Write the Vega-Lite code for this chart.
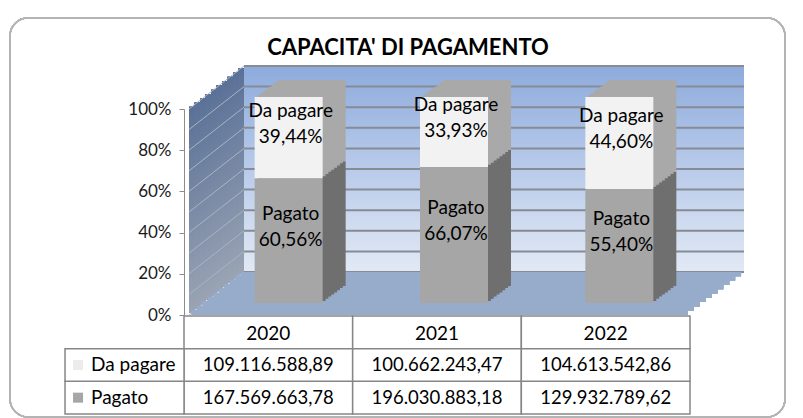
{
  "$schema": "https://vega.github.io/schema/vega-lite/v6.json",
  "background": "white",
  "padding": {"left": 9, "top": 17, "right": 7, "bottom": 1},
  "config": {
    "font": "Lato",
    "view": {"stroke": null},
    "axisY": {"grid": false, "domain": true, "domainColor": "#8c8c8c", "ticks": true, "tickSize": 5, "tickColor": "#8c8c8c", "tickCount": 10, "labelPadding": 8, "labelFontSize": 17, "labelColor": "#1a1a1a", "labelFont": "Lato", "labelOverlap": false},
    "locale": {"number": {"decimal": ",", "thousands": ".", "grouping": [3], "currency": ["", " €"]}}
  },
  "datasets": {
    "valori": [
      {"anno": 2020, "serie": "Pagato", "importo": 167569663.78, "quota": 0.6056},
      {"anno": 2020, "serie": "Da pagare", "importo": 109116588.89, "quota": 0.3944},
      {"anno": 2021, "serie": "Pagato", "importo": 196030883.18, "quota": 0.6607},
      {"anno": 2021, "serie": "Da pagare", "importo": 100662243.47, "quota": 0.3393},
      {"anno": 2022, "serie": "Pagato", "importo": 129932789.62, "quota": 0.5540},
      {"anno": 2022, "serie": "Da pagare", "importo": 104613542.86, "quota": 0.4460}
    ],
    "griglia": [
      {"v": 0}, {"v": 0.1}, {"v": 0.2}, {"v": 0.3}, {"v": 0.4}, {"v": 0.5},
      {"v": 0.6}, {"v": 0.7}, {"v": 0.8}, {"v": 0.9}, {"v": 1}
    ],
    "titolo": [{"testo": "CAPACITA' DI PAGAMENTO"}]
  },
  "bounds": "flush",
  "spacing": 1,
  "vconcat": [
    {
      "width": 506,
      "height": 206,
      "data": {"name": "valori"},
      "layer": [
        {"mark": {"type": "rect", "fill": null, "fillOpacity": 0, "stroke": "#b4b4b4", "strokeWidth": 1.5, "cornerRadius": 18, "xOffset": -179, "x2Offset": 100, "yOffset": -91, "y2Offset": 102},
         "encoding": {
           "x": {"datum": 2019.5, "type": "quantitative", "scale": {"domain": [2019.5, 2022.5], "nice": false, "zero": false}, "axis": null},
           "x2": {"datum": 2022.5},
           "y": {"datum": 1, "type": "quantitative", "scale": {"domain": [0, 1], "nice": false}, "title": null,
                 "axis": {"values": [0, 0.1, 0.2, 0.3, 0.4, 0.5, 0.6, 0.7, 0.8, 0.9, 1], "tickCount": 10, "format": ".0%", "title": null, "zindex": 1, "labelOverlap": false}},
           "y2": {"datum": 0}}},
        {"mark": {"type": "rect", "xOffset": 55, "x2Offset": 59, "yOffset": -43, "y2Offset": -43,
           "fill": {"gradient": "linear", "x1": 0, "y1": 0, "x2": 0, "y2": 1, "stops": [{"offset": 0, "color": "#8dabdc"}, {"offset": 0.5, "color": "#b9cbea"}, {"offset": 1, "color": "#e2e9f5"}]}},
         "encoding": {
           "x": {"datum": 2019.5, "type": "quantitative", "axis": null},
           "x2": {"datum": 2022.5},
           "y": {"datum": 1, "type": "quantitative", "title": null, "axis": {"values": [0, 0.1, 0.2, 0.3, 0.4, 0.5, 0.6, 0.7, 0.8, 0.9, 1], "tickCount": 10, "format": ".0%", "title": null, "zindex": 1, "labelOverlap": false}},
           "y2": {"datum": 0}}},
        {"data": {"name": "griglia"},
         "mark": {"type": "rule", "xOffset": 55, "x2Offset": 59, "yOffset": -43, "stroke": "#868b95", "strokeWidth": 2},
         "encoding": {
           "x": {"datum": 2019.5, "type": "quantitative", "axis": null},
           "x2": {"datum": 2022.5},
           "y": {"field": "v", "type": "quantitative", "title": null, "axis": {"values": [0, 0.1, 0.2, 0.3, 0.4, 0.5, 0.6, 0.7, 0.8, 0.9, 1], "tickCount": 10, "format": ".0%", "title": null, "zindex": 1, "labelOverlap": false}}}},
        {"mark": {"type": "rect", "xOffset": 0, "x2Offset": 6, "yOffset": -2.15, "y2Offset": -2.15, "fill": {"gradient": "linear", "x1": 0, "y1": 0, "x2": 0, "y2": 1, "stops": [{"offset": 0, "color": "#5a7197"}, {"offset": 1, "color": "#9aa4b4"}]}},
         "encoding": {"x": {"datum": 2019.5, "type": "quantitative", "axis": null}, "x2": {"datum": 2019.5}, "y": {"datum": 0, "type": "quantitative", "title": null, "axis": {"values": [0, 0.1, 0.2, 0.3, 0.4, 0.5, 0.6, 0.7, 0.8, 0.9, 1], "tickCount": 10, "format": ".0%", "title": null, "zindex": 1, "labelOverlap": false}}, "y2": {"datum": 1}}},
        {"mark": {"type": "rect", "xOffset": 5.5, "x2Offset": 11.5, "yOffset": -6.45, "y2Offset": -6.45, "fill": {"gradient": "linear", "x1": 0, "y1": 0, "x2": 0, "y2": 1, "stops": [{"offset": 0, "color": "#5a7197"}, {"offset": 1, "color": "#9aa4b4"}]}},
         "encoding": {"x": {"datum": 2019.5, "type": "quantitative", "axis": null}, "x2": {"datum": 2019.5}, "y": {"datum": 0, "type": "quantitative", "title": null, "axis": {"values": [0, 0.1, 0.2, 0.3, 0.4, 0.5, 0.6, 0.7, 0.8, 0.9, 1], "tickCount": 10, "format": ".0%", "title": null, "zindex": 1, "labelOverlap": false}}, "y2": {"datum": 1}}},
        {"mark": {"type": "rect", "xOffset": 11, "x2Offset": 17, "yOffset": -10.75, "y2Offset": -10.75, "fill": {"gradient": "linear", "x1": 0, "y1": 0, "x2": 0, "y2": 1, "stops": [{"offset": 0, "color": "#5a7197"}, {"offset": 1, "color": "#9aa4b4"}]}},
         "encoding": {"x": {"datum": 2019.5, "type": "quantitative", "axis": null}, "x2": {"datum": 2019.5}, "y": {"datum": 0, "type": "quantitative", "title": null, "axis": {"values": [0, 0.1, 0.2, 0.3, 0.4, 0.5, 0.6, 0.7, 0.8, 0.9, 1], "tickCount": 10, "format": ".0%", "title": null, "zindex": 1, "labelOverlap": false}}, "y2": {"datum": 1}}},
        {"mark": {"type": "rect", "xOffset": 16.5, "x2Offset": 22.5, "yOffset": -15.05, "y2Offset": -15.05, "fill": {"gradient": "linear", "x1": 0, "y1": 0, "x2": 0, "y2": 1, "stops": [{"offset": 0, "color": "#5a7197"}, {"offset": 1, "color": "#9aa4b4"}]}},
         "encoding": {"x": {"datum": 2019.5, "type": "quantitative", "axis": null}, "x2": {"datum": 2019.5}, "y": {"datum": 0, "type": "quantitative", "title": null, "axis": {"values": [0, 0.1, 0.2, 0.3, 0.4, 0.5, 0.6, 0.7, 0.8, 0.9, 1], "tickCount": 10, "format": ".0%", "title": null, "zindex": 1, "labelOverlap": false}}, "y2": {"datum": 1}}},
        {"mark": {"type": "rect", "xOffset": 22, "x2Offset": 28, "yOffset": -19.35, "y2Offset": -19.35, "fill": {"gradient": "linear", "x1": 0, "y1": 0, "x2": 0, "y2": 1, "stops": [{"offset": 0, "color": "#5a7197"}, {"offset": 1, "color": "#9aa4b4"}]}},
         "encoding": {"x": {"datum": 2019.5, "type": "quantitative", "axis": null}, "x2": {"datum": 2019.5}, "y": {"datum": 0, "type": "quantitative", "title": null, "axis": {"values": [0, 0.1, 0.2, 0.3, 0.4, 0.5, 0.6, 0.7, 0.8, 0.9, 1], "tickCount": 10, "format": ".0%", "title": null, "zindex": 1, "labelOverlap": false}}, "y2": {"datum": 1}}},
        {"mark": {"type": "rect", "xOffset": 27.5, "x2Offset": 33.5, "yOffset": -23.65, "y2Offset": -23.65, "fill": {"gradient": "linear", "x1": 0, "y1": 0, "x2": 0, "y2": 1, "stops": [{"offset": 0, "color": "#5a7197"}, {"offset": 1, "color": "#9aa4b4"}]}},
         "encoding": {"x": {"datum": 2019.5, "type": "quantitative", "axis": null}, "x2": {"datum": 2019.5}, "y": {"datum": 0, "type": "quantitative", "title": null, "axis": {"values": [0, 0.1, 0.2, 0.3, 0.4, 0.5, 0.6, 0.7, 0.8, 0.9, 1], "tickCount": 10, "format": ".0%", "title": null, "zindex": 1, "labelOverlap": false}}, "y2": {"datum": 1}}},
        {"mark": {"type": "rect", "xOffset": 33, "x2Offset": 39, "yOffset": -27.95, "y2Offset": -27.95, "fill": {"gradient": "linear", "x1": 0, "y1": 0, "x2": 0, "y2": 1, "stops": [{"offset": 0, "color": "#5a7197"}, {"offset": 1, "color": "#9aa4b4"}]}},
         "encoding": {"x": {"datum": 2019.5, "type": "quantitative", "axis": null}, "x2": {"datum": 2019.5}, "y": {"datum": 0, "type": "quantitative", "title": null, "axis": {"values": [0, 0.1, 0.2, 0.3, 0.4, 0.5, 0.6, 0.7, 0.8, 0.9, 1], "tickCount": 10, "format": ".0%", "title": null, "zindex": 1, "labelOverlap": false}}, "y2": {"datum": 1}}},
        {"mark": {"type": "rect", "xOffset": 38.5, "x2Offset": 44.5, "yOffset": -32.25, "y2Offset": -32.25, "fill": {"gradient": "linear", "x1": 0, "y1": 0, "x2": 0, "y2": 1, "stops": [{"offset": 0, "color": "#5a7197"}, {"offset": 1, "color": "#9aa4b4"}]}},
         "encoding": {"x": {"datum": 2019.5, "type": "quantitative", "axis": null}, "x2": {"datum": 2019.5}, "y": {"datum": 0, "type": "quantitative", "title": null, "axis": {"values": [0, 0.1, 0.2, 0.3, 0.4, 0.5, 0.6, 0.7, 0.8, 0.9, 1], "tickCount": 10, "format": ".0%", "title": null, "zindex": 1, "labelOverlap": false}}, "y2": {"datum": 1}}},
        {"mark": {"type": "rect", "xOffset": 44, "x2Offset": 50, "yOffset": -36.55, "y2Offset": -36.55, "fill": {"gradient": "linear", "x1": 0, "y1": 0, "x2": 0, "y2": 1, "stops": [{"offset": 0, "color": "#5a7197"}, {"offset": 1, "color": "#9aa4b4"}]}},
         "encoding": {"x": {"datum": 2019.5, "type": "quantitative", "axis": null}, "x2": {"datum": 2019.5}, "y": {"datum": 0, "type": "quantitative", "title": null, "axis": {"values": [0, 0.1, 0.2, 0.3, 0.4, 0.5, 0.6, 0.7, 0.8, 0.9, 1], "tickCount": 10, "format": ".0%", "title": null, "zindex": 1, "labelOverlap": false}}, "y2": {"datum": 1}}},
        {"mark": {"type": "rect", "xOffset": 49.5, "x2Offset": 55, "yOffset": -40.85, "y2Offset": -40.85, "fill": {"gradient": "linear", "x1": 0, "y1": 0, "x2": 0, "y2": 1, "stops": [{"offset": 0, "color": "#5a7197"}, {"offset": 1, "color": "#9aa4b4"}]}},
         "encoding": {"x": {"datum": 2019.5, "type": "quantitative", "axis": null}, "x2": {"datum": 2019.5}, "y": {"datum": 0, "type": "quantitative", "title": null, "axis": {"values": [0, 0.1, 0.2, 0.3, 0.4, 0.5, 0.6, 0.7, 0.8, 0.9, 1], "tickCount": 10, "format": ".0%", "title": null, "zindex": 1, "labelOverlap": false}}, "y2": {"datum": 1}}},
        {"data": {"name": "griglia"},
         "mark": {"type": "rule", "x2Offset": 55, "y2Offset": -43, "stroke": "#aab4c5", "strokeWidth": 1},
         "encoding": {
           "x": {"datum": 2019.5, "type": "quantitative", "axis": null}, "x2": {"datum": 2019.5},
           "y": {"field": "v", "type": "quantitative", "title": null, "axis": {"values": [0, 0.1, 0.2, 0.3, 0.4, 0.5, 0.6, 0.7, 0.8, 0.9, 1], "tickCount": 10, "format": ".0%", "title": null, "zindex": 1, "labelOverlap": false}}, "y2": {"field": "v"}}},
        {"mark": {"type": "rect", "fill": "#97abca", "xOffset": 2.75, "x2Offset": 2.95, "yOffset": 0, "y2Offset": -4.8},
         "encoding": {"x": {"datum": 2019.5, "type": "quantitative", "axis": null}, "x2": {"datum": 2022.5}, "y": {"datum": 0, "type": "quantitative", "title": null, "axis": {"values": [0, 0.1, 0.2, 0.3, 0.4, 0.5, 0.6, 0.7, 0.8, 0.9, 1], "tickCount": 10, "format": ".0%", "title": null, "zindex": 1, "labelOverlap": false}}, "y2": {"datum": 0}}},
        {"mark": {"type": "rect", "fill": "#97abca", "xOffset": 8.25, "x2Offset": 8.85, "yOffset": -4.3, "y2Offset": -9.1},
         "encoding": {"x": {"datum": 2019.5, "type": "quantitative", "axis": null}, "x2": {"datum": 2022.5}, "y": {"datum": 0, "type": "quantitative", "title": null, "axis": {"values": [0, 0.1, 0.2, 0.3, 0.4, 0.5, 0.6, 0.7, 0.8, 0.9, 1], "tickCount": 10, "format": ".0%", "title": null, "zindex": 1, "labelOverlap": false}}, "y2": {"datum": 0}}},
        {"mark": {"type": "rect", "fill": "#97abca", "xOffset": 13.75, "x2Offset": 14.75, "yOffset": -8.6, "y2Offset": -13.4},
         "encoding": {"x": {"datum": 2019.5, "type": "quantitative", "axis": null}, "x2": {"datum": 2022.5}, "y": {"datum": 0, "type": "quantitative", "title": null, "axis": {"values": [0, 0.1, 0.2, 0.3, 0.4, 0.5, 0.6, 0.7, 0.8, 0.9, 1], "tickCount": 10, "format": ".0%", "title": null, "zindex": 1, "labelOverlap": false}}, "y2": {"datum": 0}}},
        {"mark": {"type": "rect", "fill": "#97abca", "xOffset": 19.25, "x2Offset": 20.65, "yOffset": -12.9, "y2Offset": -17.7},
         "encoding": {"x": {"datum": 2019.5, "type": "quantitative", "axis": null}, "x2": {"datum": 2022.5}, "y": {"datum": 0, "type": "quantitative", "title": null, "axis": {"values": [0, 0.1, 0.2, 0.3, 0.4, 0.5, 0.6, 0.7, 0.8, 0.9, 1], "tickCount": 10, "format": ".0%", "title": null, "zindex": 1, "labelOverlap": false}}, "y2": {"datum": 0}}},
        {"mark": {"type": "rect", "fill": "#97abca", "xOffset": 24.75, "x2Offset": 26.55, "yOffset": -17.2, "y2Offset": -22},
         "encoding": {"x": {"datum": 2019.5, "type": "quantitative", "axis": null}, "x2": {"datum": 2022.5}, "y": {"datum": 0, "type": "quantitative", "title": null, "axis": {"values": [0, 0.1, 0.2, 0.3, 0.4, 0.5, 0.6, 0.7, 0.8, 0.9, 1], "tickCount": 10, "format": ".0%", "title": null, "zindex": 1, "labelOverlap": false}}, "y2": {"datum": 0}}},
        {"mark": {"type": "rect", "fill": "#97abca", "xOffset": 30.25, "x2Offset": 32.45, "yOffset": -21.5, "y2Offset": -26.3},
         "encoding": {"x": {"datum": 2019.5, "type": "quantitative", "axis": null}, "x2": {"datum": 2022.5}, "y": {"datum": 0, "type": "quantitative", "title": null, "axis": {"values": [0, 0.1, 0.2, 0.3, 0.4, 0.5, 0.6, 0.7, 0.8, 0.9, 1], "tickCount": 10, "format": ".0%", "title": null, "zindex": 1, "labelOverlap": false}}, "y2": {"datum": 0}}},
        {"mark": {"type": "rect", "fill": "#97abca", "xOffset": 35.75, "x2Offset": 38.35, "yOffset": -25.8, "y2Offset": -30.6},
         "encoding": {"x": {"datum": 2019.5, "type": "quantitative", "axis": null}, "x2": {"datum": 2022.5}, "y": {"datum": 0, "type": "quantitative", "title": null, "axis": {"values": [0, 0.1, 0.2, 0.3, 0.4, 0.5, 0.6, 0.7, 0.8, 0.9, 1], "tickCount": 10, "format": ".0%", "title": null, "zindex": 1, "labelOverlap": false}}, "y2": {"datum": 0}}},
        {"mark": {"type": "rect", "fill": "#97abca", "xOffset": 41.25, "x2Offset": 44.25, "yOffset": -30.1, "y2Offset": -34.9},
         "encoding": {"x": {"datum": 2019.5, "type": "quantitative", "axis": null}, "x2": {"datum": 2022.5}, "y": {"datum": 0, "type": "quantitative", "title": null, "axis": {"values": [0, 0.1, 0.2, 0.3, 0.4, 0.5, 0.6, 0.7, 0.8, 0.9, 1], "tickCount": 10, "format": ".0%", "title": null, "zindex": 1, "labelOverlap": false}}, "y2": {"datum": 0}}},
        {"mark": {"type": "rect", "fill": "#97abca", "xOffset": 46.75, "x2Offset": 50.15, "yOffset": -34.4, "y2Offset": -39.2},
         "encoding": {"x": {"datum": 2019.5, "type": "quantitative", "axis": null}, "x2": {"datum": 2022.5}, "y": {"datum": 0, "type": "quantitative", "title": null, "axis": {"values": [0, 0.1, 0.2, 0.3, 0.4, 0.5, 0.6, 0.7, 0.8, 0.9, 1], "tickCount": 10, "format": ".0%", "title": null, "zindex": 1, "labelOverlap": false}}, "y2": {"datum": 0}}},
        {"mark": {"type": "rect", "fill": "#97abca", "xOffset": 52.25, "x2Offset": 56.05, "yOffset": -38.7, "y2Offset": -43},
         "encoding": {"x": {"datum": 2019.5, "type": "quantitative", "axis": null}, "x2": {"datum": 2022.5}, "y": {"datum": 0, "type": "quantitative", "title": null, "axis": {"values": [0, 0.1, 0.2, 0.3, 0.4, 0.5, 0.6, 0.7, 0.8, 0.9, 1], "tickCount": 10, "format": ".0%", "title": null, "zindex": 1, "labelOverlap": false}}, "y2": {"datum": 0}}},
        {"mark": {"type": "bar", "width": 68, "xOffset": 40, "yOffset": -29, "y2Offset": -29},
         "encoding": {"x": {"field": "anno", "type": "quantitative", "axis": null}, "y": {"field": "quota", "type": "quantitative", "stack": "zero", "title": null, "axis": {"values": [0, 0.1, 0.2, 0.3, 0.4, 0.5, 0.6, 0.7, 0.8, 0.9, 1], "tickCount": 10, "format": ".0%", "title": null, "zindex": 1, "labelOverlap": false}}, "detail": {"field": "serie"}, "order": {"field": "serie", "type": "ordinal", "sort": "descending"}, "fill": {"condition": {"test": "datum.serie === 'Pagato'", "value": "#6f6f6f"}, "value": "#a9a9a9"}}},
        {"mark": {"type": "bar", "width": 68, "xOffset": 37.1, "yOffset": -26.9, "y2Offset": -26.9},
         "encoding": {"x": {"field": "anno", "type": "quantitative", "axis": null}, "y": {"field": "quota", "type": "quantitative", "stack": "zero", "title": null, "axis": {"values": [0, 0.1, 0.2, 0.3, 0.4, 0.5, 0.6, 0.7, 0.8, 0.9, 1], "tickCount": 10, "format": ".0%", "title": null, "zindex": 1, "labelOverlap": false}}, "detail": {"field": "serie"}, "order": {"field": "serie", "type": "ordinal", "sort": "descending"}, "fill": {"condition": {"test": "datum.serie === 'Pagato'", "value": "#6f6f6f"}, "value": "#a9a9a9"}}},
        {"mark": {"type": "bar", "width": 68, "xOffset": 34.25, "yOffset": -24.75, "y2Offset": -24.75},
         "encoding": {"x": {"field": "anno", "type": "quantitative", "axis": null}, "y": {"field": "quota", "type": "quantitative", "stack": "zero", "title": null, "axis": {"values": [0, 0.1, 0.2, 0.3, 0.4, 0.5, 0.6, 0.7, 0.8, 0.9, 1], "tickCount": 10, "format": ".0%", "title": null, "zindex": 1, "labelOverlap": false}}, "detail": {"field": "serie"}, "order": {"field": "serie", "type": "ordinal", "sort": "descending"}, "fill": {"condition": {"test": "datum.serie === 'Pagato'", "value": "#6f6f6f"}, "value": "#a9a9a9"}}},
        {"mark": {"type": "bar", "width": 68, "xOffset": 31.4, "yOffset": -22.6, "y2Offset": -22.6},
         "encoding": {"x": {"field": "anno", "type": "quantitative", "axis": null}, "y": {"field": "quota", "type": "quantitative", "stack": "zero", "title": null, "axis": {"values": [0, 0.1, 0.2, 0.3, 0.4, 0.5, 0.6, 0.7, 0.8, 0.9, 1], "tickCount": 10, "format": ".0%", "title": null, "zindex": 1, "labelOverlap": false}}, "detail": {"field": "serie"}, "order": {"field": "serie", "type": "ordinal", "sort": "descending"}, "fill": {"condition": {"test": "datum.serie === 'Pagato'", "value": "#6f6f6f"}, "value": "#a9a9a9"}}},
        {"mark": {"type": "bar", "width": 68, "xOffset": 28.5, "yOffset": -20.5, "y2Offset": -20.5},
         "encoding": {"x": {"field": "anno", "type": "quantitative", "axis": null}, "y": {"field": "quota", "type": "quantitative", "stack": "zero", "title": null, "axis": {"values": [0, 0.1, 0.2, 0.3, 0.4, 0.5, 0.6, 0.7, 0.8, 0.9, 1], "tickCount": 10, "format": ".0%", "title": null, "zindex": 1, "labelOverlap": false}}, "detail": {"field": "serie"}, "order": {"field": "serie", "type": "ordinal", "sort": "descending"}, "fill": {"condition": {"test": "datum.serie === 'Pagato'", "value": "#6f6f6f"}, "value": "#a9a9a9"}}},
        {"mark": {"type": "bar", "width": 68, "xOffset": 25.6, "yOffset": -18.4, "y2Offset": -18.4},
         "encoding": {"x": {"field": "anno", "type": "quantitative", "axis": null}, "y": {"field": "quota", "type": "quantitative", "stack": "zero", "title": null, "axis": {"values": [0, 0.1, 0.2, 0.3, 0.4, 0.5, 0.6, 0.7, 0.8, 0.9, 1], "tickCount": 10, "format": ".0%", "title": null, "zindex": 1, "labelOverlap": false}}, "detail": {"field": "serie"}, "order": {"field": "serie", "type": "ordinal", "sort": "descending"}, "fill": {"condition": {"test": "datum.serie === 'Pagato'", "value": "#6f6f6f"}, "value": "#a9a9a9"}}},
        {"mark": {"type": "bar", "width": 68, "xOffset": 22.75, "yOffset": -16.25, "y2Offset": -16.25},
         "encoding": {"x": {"field": "anno", "type": "quantitative", "axis": null}, "y": {"field": "quota", "type": "quantitative", "stack": "zero", "title": null, "axis": {"values": [0, 0.1, 0.2, 0.3, 0.4, 0.5, 0.6, 0.7, 0.8, 0.9, 1], "tickCount": 10, "format": ".0%", "title": null, "zindex": 1, "labelOverlap": false}}, "detail": {"field": "serie"}, "order": {"field": "serie", "type": "ordinal", "sort": "descending"}, "fill": {"condition": {"test": "datum.serie === 'Pagato'", "value": "#6f6f6f"}, "value": "#a9a9a9"}}},
        {"mark": {"type": "bar", "width": 68, "xOffset": 19.9, "yOffset": -14.1, "y2Offset": -14.1},
         "encoding": {"x": {"field": "anno", "type": "quantitative", "axis": null}, "y": {"field": "quota", "type": "quantitative", "stack": "zero", "title": null, "axis": {"values": [0, 0.1, 0.2, 0.3, 0.4, 0.5, 0.6, 0.7, 0.8, 0.9, 1], "tickCount": 10, "format": ".0%", "title": null, "zindex": 1, "labelOverlap": false}}, "detail": {"field": "serie"}, "order": {"field": "serie", "type": "ordinal", "sort": "descending"}, "fill": {"condition": {"test": "datum.serie === 'Pagato'", "value": "#6f6f6f"}, "value": "#a9a9a9"}}},
        {"mark": {"type": "bar", "width": 68, "xOffset": 17, "yOffset": -12, "y2Offset": -12},
         "encoding": {
           "x": {"field": "anno", "type": "quantitative", "axis": null},
           "y": {"field": "quota", "type": "quantitative", "stack": "zero", "title": null, "axis": {"values": [0, 0.1, 0.2, 0.3, 0.4, 0.5, 0.6, 0.7, 0.8, 0.9, 1], "tickCount": 10, "format": ".0%", "title": null, "zindex": 1, "labelOverlap": false}},
           "detail": {"field": "serie"},
           "order": {"field": "serie", "type": "ordinal", "sort": "descending"},
           "fill": {"condition": {"test": "datum.serie === 'Pagato'", "value": "#a6a6a6"}, "value": "#f2f2f2"}}},
        {"mark": {"type": "text", "fontSize": 19, "font": "Lato", "color": "black", "dx": 19, "dy": -39, "baseline": "middle"},
         "encoding": {
           "x": {"field": "anno", "type": "quantitative", "axis": null},
           "y": {"field": "quota", "type": "quantitative", "stack": "zero", "bandPosition": 0.5, "title": null, "axis": {"values": [0, 0.1, 0.2, 0.3, 0.4, 0.5, 0.6, 0.7, 0.8, 0.9, 1], "tickCount": 10, "format": ".0%", "title": null, "zindex": 1, "labelOverlap": false}},
           "detail": {"field": "serie"},
           "order": {"field": "serie", "type": "ordinal", "sort": "descending"},
           "text": {"field": "serie"}}},
        {"mark": {"type": "text", "fontSize": 19, "font": "Lato", "color": "black", "dx": 19, "dy": -13, "baseline": "middle"},
         "encoding": {
           "x": {"field": "anno", "type": "quantitative", "axis": null},
           "y": {"field": "quota", "type": "quantitative", "stack": "zero", "bandPosition": 0.5, "title": null, "axis": {"values": [0, 0.1, 0.2, 0.3, 0.4, 0.5, 0.6, 0.7, 0.8, 0.9, 1], "tickCount": 10, "format": ".0%", "title": null, "zindex": 1, "labelOverlap": false}},
           "detail": {"field": "serie"},
           "order": {"field": "serie", "type": "ordinal", "sort": "descending"},
           "text": {"field": "quota", "type": "quantitative", "format": ".2%"}}},
        {"data": {"name": "titolo"},
         "mark": {"type": "text", "fontSize": 22, "font": "Lato", "fontWeight": "bold", "color": "black", "baseline": "middle", "dx": -29, "dy": -61},
         "encoding": {
           "x": {"datum": 2021, "type": "quantitative", "axis": null},
           "y": {"datum": 1, "type": "quantitative", "title": null, "axis": {"values": [0, 0.1, 0.2, 0.3, 0.4, 0.5, 0.6, 0.7, 0.8, 0.9, 1], "tickCount": 10, "format": ".0%", "title": null, "zindex": 1, "labelOverlap": false}},
           "text": {"field": "testo"}}}
      ]
    },
    {
      "width": 506,
      "height": 98,
      "data": {"name": "valori"},
      "layer": [
        {"transform": [{"filter": "datum.serie === 'Pagato'"}],
         "mark": {"type": "rect", "fill": "white", "stroke": "#868686", "strokeWidth": 1.5},
         "encoding": {
           "x": {"field": "anno", "type": "ordinal", "scale": {"domain": [2020, 2021, 2022], "paddingInner": 0, "paddingOuter": 0}, "axis": null},
           "y": {"datum": "Anno", "type": "ordinal", "scale": {"domain": ["Anno", "Da pagare", "Pagato"], "paddingInner": 0, "paddingOuter": 0}, "axis": null}}},
        {"mark": {"type": "rect", "fill": "white", "stroke": "#868686", "strokeWidth": 1.5},
         "encoding": {
           "x": {"field": "anno", "type": "ordinal", "axis": null},
           "y": {"field": "serie", "type": "ordinal", "axis": null}}},
        {"transform": [{"filter": "datum.anno === 2020"}],
         "mark": {"type": "bar", "width": 119, "xOffset": -143.8, "fill": "white", "stroke": "#868686", "strokeWidth": 1.5},
         "encoding": {
           "x": {"datum": 2020, "type": "ordinal", "axis": null},
           "y": {"field": "serie", "type": "ordinal", "axis": null}}},
        {"transform": [{"filter": "datum.anno === 2020"}],
         "mark": {"type": "point", "shape": "square", "filled": true, "size": 100, "opacity": 1, "xOffset": -190.3},
         "encoding": {
           "x": {"datum": 2020, "type": "ordinal", "axis": null},
           "y": {"field": "serie", "type": "ordinal", "axis": null},
           "fill": {"condition": {"test": "datum.serie === 'Pagato'", "value": "#a6a6a6"}, "value": "#ececec"}}},
        {"transform": [{"filter": "datum.anno === 2020"}],
         "mark": {"type": "text", "align": "left", "baseline": "middle", "fontSize": 19, "font": "Lato", "color": "black", "xOffset": -177.3},
         "encoding": {
           "x": {"datum": 2020, "type": "ordinal", "axis": null},
           "y": {"field": "serie", "type": "ordinal", "axis": null},
           "text": {"field": "serie"}}},
        {"transform": [{"filter": "datum.serie === 'Pagato'"}],
         "mark": {"type": "text", "baseline": "middle", "fontSize": 19, "font": "Lato", "color": "black", "dy": 2},
         "encoding": {
           "x": {"field": "anno", "type": "ordinal", "axis": null},
           "y": {"datum": "Anno", "type": "ordinal", "axis": null},
           "text": {"field": "anno", "type": "ordinal"}}},
        {"mark": {"type": "text", "baseline": "middle", "fontSize": 18.5, "font": "Lato", "color": "black"},
         "encoding": {
           "x": {"field": "anno", "type": "ordinal", "axis": null},
           "y": {"field": "serie", "type": "ordinal", "axis": null},
           "text": {"field": "importo", "type": "quantitative", "format": ",.2f"}}}
      ]
    }
  ]
}
